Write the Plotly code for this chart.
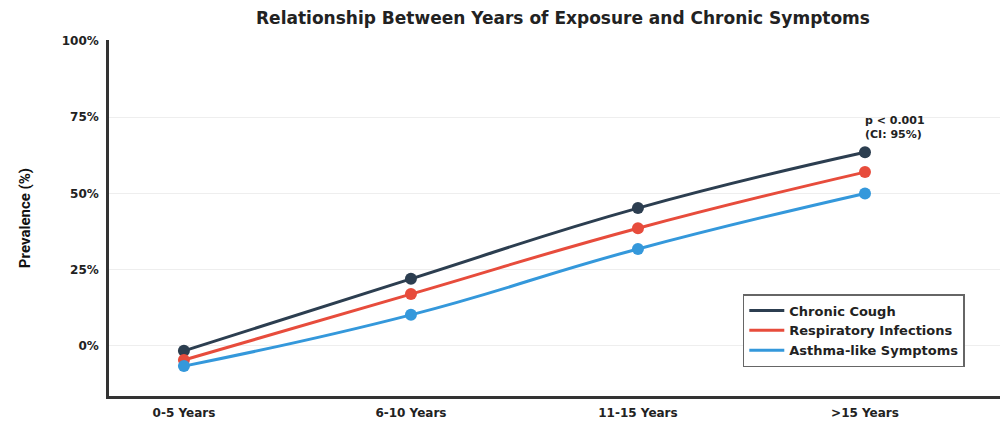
import plotly.graph_objects as go

categories = ["0-5 Years", "6-10 Years", "11-15 Years", ">15 Years"]
chronic_cough = [-1.6, 22, 45.2, 63.5]
respiratory_infections = [-4.6, 17, 38.6, 57]
asthma_like = [-6.6, 10.2, 31.8, 50]
series_names = ["Chronic Cough", "Respiratory Infections", "Asthma-like Symptoms"]
series_colors = ["#2c3e50", "#e74c3c", "#3498db"]
y_ticks = [0, 25, 50, 75, 100]
y_tick_labels = ["0%", "25%", "50%", "75%", "100%"]

FONT = "DejaVu Sans"

fig = go.Figure()
all_series = [chronic_cough, respiratory_infections, asthma_like]
for name, vals, col in zip(series_names, all_series, series_colors):
    fig.add_trace(go.Scatter(
        x=list(range(len(categories))), y=vals, name="<b>%s</b>" % name,
        mode="lines",
        line=dict(color=col, width=3, shape="spline", smoothing=1.3),
        legendgroup=name, showlegend=True,
    ))
for name, vals, col in zip(series_names, all_series, series_colors):
    fig.add_trace(go.Scatter(
        x=list(range(len(categories))), y=vals, name=name,
        mode="markers", marker=dict(color=col, size=12),
        legendgroup=name, showlegend=False,
    ))

fig.add_annotation(
    x=3, y=chronic_cough[3], xref="x", yref="y",
    text="<b>p < 0.001<br>(CI: 95%)</b>", showarrow=False,
    xanchor="left", yanchor="bottom", yshift=9, xshift=-2, align="left",
    font=dict(family=FONT, size=11, color="#222"),
)

fig.update_layout(
    width=1000, height=415,
    margin=dict(l=101, r=0, t=32, b=27),
    paper_bgcolor="white", plot_bgcolor="white",
    title=dict(text="<b>Relationship Between Years of Exposure and Chronic Symptoms</b>",
               x=0.555, xanchor="center", y=0.976, yanchor="middle",
               font=dict(family=FONT, size=17, color="#222")),
    font=dict(family=FONT, color="#222"),
    legend=dict(x=0.705, y=0.2865, xanchor="left", yanchor="top",
                bordercolor="#666", borderwidth=1.5, bgcolor="white",
                font=dict(family=FONT, size=13, color="#222"),
                itemwidth=35, tracegroupgap=0),
    showlegend=True,
)
fig.update_xaxes(
    range=[-0.33, 3.63], tickvals=list(range(len(categories))), ticktext=["<b>%s</b>" % c for c in categories],
    showgrid=False, zeroline=False, showline=True, linecolor="#333", linewidth=2.5,
    tickfont=dict(family=FONT, size=12, color="#222"), ticks="", ticklabelstandoff=4,
)
fig.update_yaxes(
    range=[-16.4, 100.3], tickvals=y_ticks, ticktext=["<b>%s</b>" % t for t in y_tick_labels],
    showgrid=True, gridcolor="#eeeeee", gridwidth=1, zeroline=False,
    showline=True, linecolor="#333", linewidth=2.5, ticks="", ticklabelstandoff=5,
    tickfont=dict(family=FONT, size=12, color="#222"),
    title=dict(text="<b>Prevalence (%)</b>", font=dict(family="Liberation Sans Narrow, Roboto", size=15, color="#111"), standoff=28),
)
fig.write_html("out.html")
